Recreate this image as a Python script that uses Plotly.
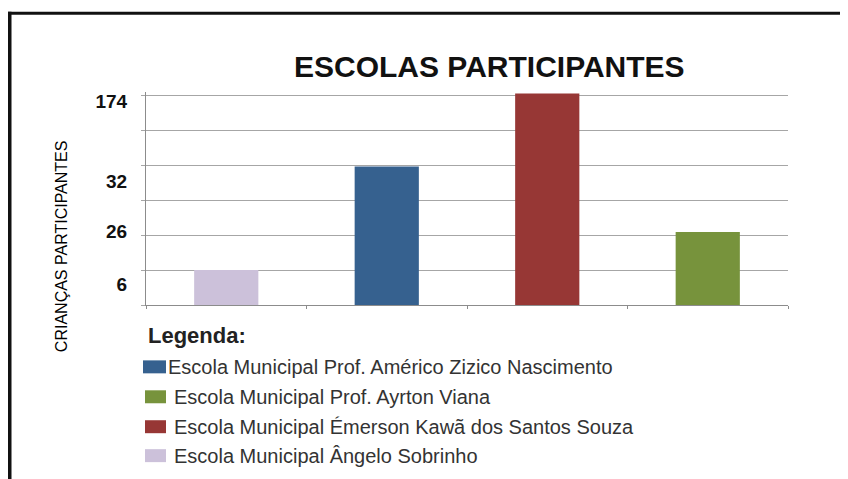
import plotly.graph_objects as go

# ---- data ----
schools = [
    "Escola Municipal Ângelo Sobrinho",
    "Escola Municipal Prof. Américo Zizico Nascimento",
    "Escola Municipal Émerson Kawã dos Santos Souza",
    "Escola Municipal Prof. Ayrton Viana",
]
# bar heights as drawn, in the chart's gridline units (0..6)
bar_heights = [1.0, 3.97, 6.06, 2.09]
bar_colors = ["#CCC1DA", "#36618F", "#973735", "#77933C"]

# y tick labels (children counts) and where they sit on the axis (grid units)
tick_labels = ["6", "26", "32", "174"]
tick_positions = [0.6, 2.11, 3.54, 5.83]

legend_order = [1, 3, 2, 0]  # legend lists blue, green, red, lavender

title_text = "ESCOLAS PARTICIPANTES"
y_title = "CRIANÇAS PARTICIPANTES"
legend_title = "Legenda:"

# ---- layout geometry (pixels; page body adds an 8px offset) ----
OFF = 8
W, H = 848 - OFF, 479 - OFF
L, T = 146 - OFF, 91.5 - OFF
pw, ph = 642, 213.5
R, B = W - L - pw, H - T - ph


def px(x):
    return (x - OFF - L) / pw


def py(y):
    return (T + OFF + ph - y) / ph


fig = go.Figure()
fig.add_trace(go.Bar(
    x=schools, y=bar_heights, marker=dict(color=bar_colors, line=dict(width=0)),
    width=0.4, showlegend=False, hoverinfo="x",
))

fig.update_layout(
    width=W, height=H,
    margin=dict(l=L, r=R, t=T, b=B, pad=0),
    paper_bgcolor="white", plot_bgcolor="white",
    font=dict(family="Liberation Sans, Arial, sans-serif", color="black"),
    showlegend=False,
    xaxis=dict(
        type="category", showticklabels=False, showgrid=False,
        showline=True, linecolor="#8c8c8c", linewidth=1,
        ticks="outside", tickson="boundaries", ticklen=3, tickcolor="#8c8c8c",
        range=[-0.5, 3.5], fixedrange=True,
    ),
    yaxis=dict(
        range=[0, 6.1], tickmode="array", tickvals=tick_positions, ticktext=tick_labels,
        showgrid=False, ticks="", ticklabelstandoff=14,
        tickfont=dict(size=19, family="Liberation Sans, Arial", weight="bold", color="#111"),
        showline=True, linecolor="#8c8c8c", linewidth=1, zeroline=False,
        minor=dict(tickmode="linear", tick0=0, dtick=1, showgrid=True,
                   gridcolor="#a6a6a6", gridwidth=1, ticks="outside", ticklen=4,
                   tickcolor="#a6a6a6"),
        fixedrange=True,
    ),
)

ann = []
shapes = []

# title
ann.append(dict(text=f"<b>{title_text}</b>", x=px(490), y=py(66), xref="paper", yref="paper",
                showarrow=False, xanchor="center", yanchor="middle",
                font=dict(size=30, family="Liberation Sans, Arial", color="#111")))
# y axis title
ann.append(dict(text=y_title, x=px(61), y=py(246), xref="paper", yref="paper",
                showarrow=False, xanchor="center", yanchor="middle", textangle=-90,
                font=dict(size=16, family="Liberation Sans, Arial", color="#000")))
# legend title
ann.append(dict(text=f"<b>{legend_title}</b>", x=px(146), y=py(336), xref="paper", yref="paper",
                showarrow=False, xanchor="left", yanchor="middle",
                font=dict(size=22, family="Liberation Sans, Arial", color="#222")))

item_y = [367, 397, 427, 456]
for k, idx in enumerate(legend_order):
    yc = item_y[k]
    x0 = 143 if k == 0 else 145
    shapes.append(dict(type="rect", xref="paper", yref="paper",
                       x0=px(x0), x1=px(166), y0=py(yc + 6.5), y1=py(yc - 6.5),
                       fillcolor=bar_colors[idx], line=dict(width=0)))
    ann.append(dict(text=schools[idx], x=px(166 if k == 0 else 172), y=py(yc),
                    xref="paper", yref="paper", showarrow=False,
                    xanchor="left", yanchor="middle",
                    font=dict(size=20, family="Liberation Sans, Arial", color="#333")))

# outer frame (left and top edges of the figure box)
shapes.append(dict(type="line", xref="paper", yref="paper",
                   x0=px(9.5), x1=px(9.5), y0=py(11), y1=py(490),
                   line=dict(color="#111", width=4)))
shapes.append(dict(type="line", xref="paper", yref="paper",
                   x0=px(8), x1=px(860), y0=py(12.5), y1=py(12.5),
                   line=dict(color="#111", width=3)))

fig.update_layout(annotations=ann, shapes=shapes)
fig.write_html("out.html")
